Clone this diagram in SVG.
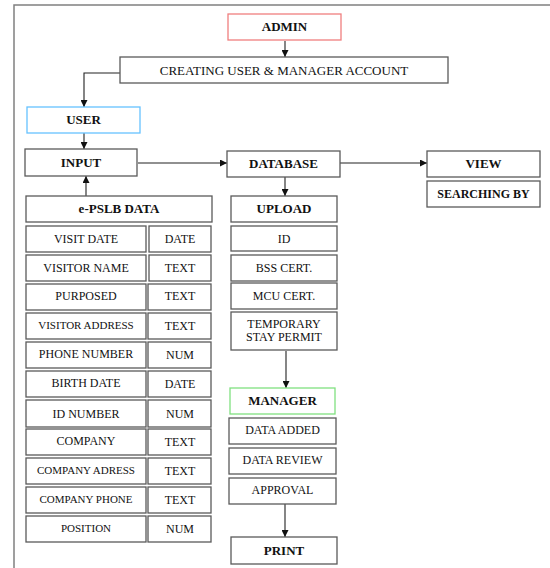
<svg xmlns="http://www.w3.org/2000/svg" width="550" height="568" viewBox="0 0 550 568">
<style>
.b{fill:#fff;stroke:#5a5a5a;stroke-width:1.3}
.t{font-family:"Liberation Serif","Times New Roman",serif;font-size:12px;fill:#111;text-anchor:middle}
.h{font-family:"Liberation Serif","Times New Roman",serif;font-size:13px;font-weight:bold;fill:#111;text-anchor:middle}
.s{font-size:11px}
.c{fill:none;stroke:#222;stroke-width:1.1}
</style>
<defs>
<marker id="ar" viewBox="0 0 10 10" refX="10" refY="5" markerWidth="7" markerHeight="7" markerUnits="userSpaceOnUse" orient="auto">
<path d="M0,0 L10,5 L0,10 z" fill="#111"/>
</marker>
</defs>
<rect width="550" height="568" fill="#fff"/>
<path d="M14,568 V5 H550" fill="none" stroke="#808080" stroke-width="1.5"/>

<g id="connectors">
<path class="c" d="M285,41 V57" marker-end="url(#ar)"/>
<path class="c" d="M120,73 H84 V107" marker-end="url(#ar)"/>
<path class="c" d="M84,133 V149" marker-end="url(#ar)"/>
<path class="c" d="M86,196 V176" marker-end="url(#ar)"/>
<path class="c" d="M138,163 H227" marker-end="url(#ar)"/>
<path class="c" d="M340,163 H427" marker-end="url(#ar)"/>
<path class="c" d="M285,177 V196" marker-end="url(#ar)"/>
<path class="c" d="M286,351 V388" marker-end="url(#ar)"/>
<path class="c" d="M285,504 V537" marker-end="url(#ar)"/>
</g>

<g id="admin"><rect class="b" x="228" y="14" width="113" height="26" style="stroke:#f07f7f"/><text class="h" x="284.5" y="31">ADMIN</text></g>
<g id="creating"><rect class="b" x="120" y="57" width="328" height="26"/><text class="t" x="284" y="75" style="font-size:13px">CREATING USER &amp; MANAGER ACCOUNT</text></g>
<g id="user"><rect class="b" x="27" y="107" width="113" height="26" style="stroke:#66c2ff"/><text class="h" x="83.5" y="124">USER</text></g>
<g id="input"><rect class="b" x="25" y="149" width="112" height="27"/><text class="h" x="81" y="167">INPUT</text></g>
<g id="database"><rect class="b" x="227" y="151" width="113" height="26"/><text class="h" x="283.5" y="168">DATABASE</text></g>
<g id="view"><rect class="b" x="427" y="151" width="113" height="26"/><text class="h" x="483.5" y="168">VIEW</text></g>
<g id="searching"><rect class="b" x="427" y="181" width="113" height="26"/><text class="h" x="483.5" y="198" style="font-size:12px">SEARCHING BY</text></g>

<g id="epslb"><rect class="b" x="26" y="196" width="186" height="26"/><text class="h" x="119" y="213">e-PSLB DATA</text></g>
<g id="row1"><rect class="b" x="26" y="226" width="120" height="26"/><rect class="b" x="149" y="226" width="62" height="26"/><text class="t" x="86" y="243">VISIT DATE</text><text class="t" x="180" y="243">DATE</text></g>
<g id="row2"><rect class="b" x="26" y="255" width="120" height="26"/><rect class="b" x="149" y="255" width="62" height="26"/><text class="t" x="86" y="272">VISITOR NAME</text><text class="t" x="180" y="272">TEXT</text></g>
<g id="row3"><rect class="b" x="26" y="284" width="120" height="26"/><rect class="b" x="148" y="284" width="63" height="26"/><text class="t" x="86" y="300">PURPOSED</text><text class="t" x="180" y="300">TEXT</text></g>
<g id="row4"><rect class="b" x="26" y="313" width="120" height="26"/><rect class="b" x="148" y="313" width="63" height="26"/><text class="t s" x="86" y="329">VISITOR ADDRESS</text><text class="t" x="180" y="330">TEXT</text></g>
<g id="row5"><rect class="b" x="26" y="342" width="120" height="26"/><rect class="b" x="148" y="342" width="63" height="26"/><text class="t" x="86" y="358">PHONE NUMBER</text><text class="t" x="180" y="359">NUM</text></g>
<g id="row6"><rect class="b" x="26" y="371" width="120" height="26"/><rect class="b" x="148" y="371" width="63" height="26"/><text class="t" x="86" y="387">BIRTH DATE</text><text class="t" x="180" y="388">DATE</text></g>
<g id="row7"><rect class="b" x="26" y="400" width="120" height="27"/><rect class="b" x="148" y="400" width="63" height="27"/><text class="t" x="86" y="418">ID NUMBER</text><text class="t" x="180" y="418">NUM</text></g>
<g id="row8"><rect class="b" x="26" y="429" width="120" height="26"/><rect class="b" x="148" y="429" width="63" height="26"/><text class="t" x="86" y="445">COMPANY</text><text class="t" x="180" y="446">TEXT</text></g>
<g id="row9"><rect class="b" x="26" y="458" width="120" height="26"/><rect class="b" x="148" y="458" width="63" height="26"/><text class="t s" x="86" y="474">COMPANY ADRESS</text><text class="t" x="180" y="475">TEXT</text></g>
<g id="row10"><rect class="b" x="26" y="487" width="120" height="26"/><rect class="b" x="148" y="487" width="63" height="26"/><text class="t s" x="86" y="503">COMPANY PHONE</text><text class="t" x="180" y="504">TEXT</text></g>
<g id="row11"><rect class="b" x="26" y="516" width="120" height="26"/><rect class="b" x="148" y="516" width="63" height="26"/><text class="t s" x="86" y="532">POSITION</text><text class="t" x="180" y="533">NUM</text></g>

<g id="upload"><rect class="b" x="231" y="196" width="106" height="26"/><text class="h" x="284" y="213">UPLOAD</text></g>
<g id="id"><rect class="b" x="231" y="226" width="106" height="25"/><text class="t" x="284" y="243">ID</text></g>
<g id="bss"><rect class="b" x="231" y="255" width="106" height="26"/><text class="t" x="284" y="272">BSS CERT.</text></g>
<g id="mcu"><rect class="b" x="231" y="283" width="106" height="26"/><text class="t" x="284" y="300">MCU CERT.</text></g>
<g id="temp"><rect class="b" x="231" y="312" width="106" height="38"/><text class="t" x="284" y="328">TEMPORARY</text><text class="t" x="284" y="341">STAY PERMIT</text></g>
<g id="manager"><rect class="b" x="230" y="388" width="105" height="26" style="stroke:#80e080"/><text class="h" x="282.5" y="405">MANAGER</text></g>
<g id="added"><rect class="b" x="229" y="418" width="107" height="26"/><text class="t" x="282.5" y="434">DATA ADDED</text></g>
<g id="review"><rect class="b" x="229" y="448" width="107" height="26"/><text class="t" x="282.5" y="464">DATA REVIEW</text></g>
<g id="approval"><rect class="b" x="229" y="478" width="107" height="26"/><text class="t" x="282.5" y="494">APPROVAL</text></g>
<g id="print"><rect class="b" x="231" y="537" width="106" height="27"/><text class="h" x="284" y="555">PRINT</text></g>
</svg>
